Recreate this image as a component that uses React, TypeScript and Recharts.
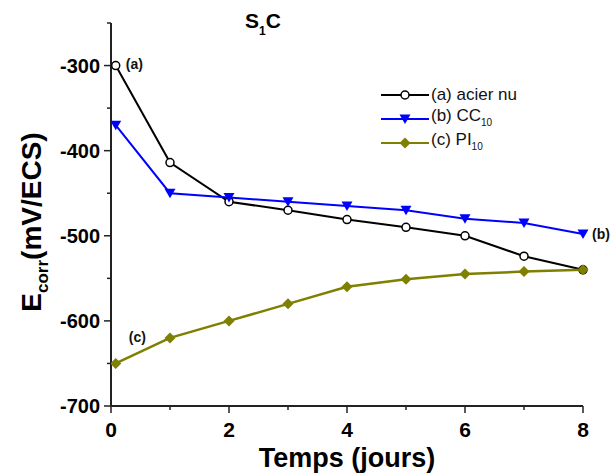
import React from "react";
import {
  LineChart,
  Line,
  XAxis,
  YAxis,
  Label,
} from "recharts";

const FONT = "Arial, 'Liberation Sans', Helvetica, sans-serif";

// jours
const days = [0.08, 1, 2, 3, 4, 5, 6, 7, 8];
// E corr (mV/ECS)
const acierNu = [-300, -414, -460, -470, -481, -490, -500, -524, -540];
const cc10 = [-370, -450, -455, -460, -465, -470, -480, -485, -498];
const pi10 = [-650, -620, -600, -580, -560, -551, -545, -542, -540];

const xTicks = [0, 1, 2, 3, 4, 5, 6, 7, 8];
const yTicks = [-700, -650, -600, -550, -500, -450, -400, -350, -300, -250];

const COLORS = {
  a: "#000000",
  b: "#0000ff",
  c: "#7f7f00",
};

const data = days.map((d, i) => ({
  day: d,
  a: acierNu[i],
  b: cc10[i],
  c: pi10[i],
}));

function CircleDot(props: any) {
  const { cx, cy, index } = props;
  return (
    <circle key={`a-${index}`} cx={cx} cy={cy} r={4} fill="#fff" stroke={COLORS.a} strokeWidth={1.5} />
  );
}

function TriangleDot(props: any) {
  const { cx, cy, index } = props;
  return (
    <path
      key={`b-${index}`}
      d={`M${cx - 5.5},${cy - 4.5} L${cx + 5.5},${cy - 4.5} L${cx},${cy + 5} Z`}
      fill={COLORS.b}
    />
  );
}

function DiamondDot(props: any) {
  const { cx, cy, index } = props;
  return (
    <path
      key={`c-${index}`}
      d={`M${cx},${cy - 5.5} L${cx + 5.5},${cy} L${cx},${cy + 5.5} L${cx - 5.5},${cy} Z`}
      fill={COLORS.c}
    />
  );
}

function YTick(props: any) {
  const { x, y, payload } = props;
  const major = payload.value % 100 === 0;
  return (
    <g>
      <line x1={x - (major ? 7 : 4)} y1={y} x2={x} y2={y} stroke="#222" strokeWidth={1.5} />
      {major && (
        <text x={x - 11} y={y} dy="0.36em" textAnchor="end" fontFamily={FONT} fontWeight="bold" fontSize={20} fill="#000">
          {payload.value}
        </text>
      )}
    </g>
  );
}

function XTick(props: any) {
  const { x, y, payload } = props;
  const major = payload.value % 2 === 0;
  return (
    <g>
      <line x1={x} y1={y} x2={x} y2={y + (major ? 7 : 4)} stroke="#222" strokeWidth={1.5} />
      {major && (
        <text x={x} y={y + 31} textAnchor="middle" fontFamily={FONT} fontWeight="bold" fontSize={21} fill="#000">
          {payload.value}
        </text>
      )}
    </g>
  );
}

function endLabel(text: string, which: "first" | "last", dx: number, dy: number) {
  return (props: any) => {
    const { x, y, index } = props;
    const want = which === "first" ? 0 : days.length - 1;
    if (index !== want) return null;
    return (
      <text x={x + dx} y={y + dy} dy="0.35em" textAnchor="start" fontFamily={FONT} fontWeight="bold" fontSize={14} fill="#111">
        {text}
      </text>
    );
  };
}

const legendItems = [
  { key: "a", label: "(a) acier nu", sub: "", marker: "circle" },
  { key: "b", label: "(b) CC", sub: "10", marker: "tri" },
  { key: "c", label: "(c) PI", sub: "10", marker: "diamond" },
] as const;

function LegendBox() {
  return (
    <div style={{ position: "absolute", left: 381, top: 83, fontFamily: FONT, fontSize: 17, color: "#111" }}>
      {legendItems.map((it) => {
        const col = COLORS[it.key];
        return (
          <div key={it.key} style={{ display: "flex", alignItems: "center", height: 24 }}>
            <svg width={50} height={14} style={{ display: "block" }}>
              <line x1={0} y1={7} x2={48} y2={7} stroke={col} strokeWidth={2} />
              {it.marker === "circle" && <circle cx={24} cy={7} r={4} fill="#fff" stroke={col} strokeWidth={1.5} />}
              {it.marker === "tri" && <path d="M18.5,2.5 L29.5,2.5 L24,12 Z" fill={col} />}
              {it.marker === "diamond" && <path d="M24,1.5 L29.5,7 L24,12.5 L18.5,7 Z" fill={col} />}
            </svg>
            <span style={{ lineHeight: "24px" }}>
              {it.label}
              {it.sub && <sub style={{ fontSize: 10, verticalAlign: "-5px" }}>{it.sub}</sub>}
            </span>
          </div>
        );
      })}
    </div>
  );
}

export default function App() {
  return (
    <div style={{ position: "absolute", left: 0, top: 0, width: 612, height: 476, background: "#fff" }}>
      <LineChart
        width={612}
        height={476}
        data={data}
        margin={{ top: 23, right: 29, left: 0, bottom: 0 }}
      >
        <XAxis
          dataKey="day"
          type="number"
          domain={[0, 8]}
          ticks={xTicks}
          tick={<XTick />}
          tickLine={false}
          tickSize={0}
          tickMargin={0}
          height={70}
          stroke="#222"
          strokeWidth={2}
          interval={0}
        >
          <Label
            value="Temps (jours)"
            position="insideBottom"
            offset={9}
            style={{ fontFamily: FONT, fontWeight: "bold", fontSize: 27, fill: "#000" }}
          />
        </XAxis>
        <YAxis
          type="number"
          domain={[-700, -250]}
          ticks={yTicks}
          tick={<YTick />}
          tickLine={false}
          tickSize={0}
          tickMargin={0}
          width={111}
          stroke="#222"
          strokeWidth={2}
          interval={0}
        />
        <Line
          dataKey="a"
          stroke={COLORS.a}
          strokeWidth={2}
          dot={<CircleDot />}
          isAnimationActive={false}
          label={endLabel("(a)", "first", 10, -1)}
        />
        <Line
          dataKey="b"
          stroke={COLORS.b}
          strokeWidth={2}
          dot={<TriangleDot />}
          isAnimationActive={false}
          label={endLabel("(b)", "last", 9, 0)}
        />
        <Line
          dataKey="c"
          stroke={COLORS.c}
          strokeWidth={2.5}
          dot={<DiamondDot />}
          isAnimationActive={false}
          label={endLabel("(c)", "first", 13, -26)}
        />
      </LineChart>
      <LegendBox />
      <svg width={612} height={476} style={{ position: "absolute", left: 0, top: 0, pointerEvents: "none" }}>
        <text x={245} y={28} fontFamily={FONT} fontWeight="bold" fontSize={21} fill="#000">
          S<tspan fontSize={12} dy={7}>1</tspan>
          <tspan dy={-7}>C</tspan>
        </text>
        <text
          transform="translate(41,222) rotate(-90)"
          textAnchor="middle"
          fontFamily={FONT}
          fontWeight="bold"
          fontSize={28}
          fill="#000"
        >
          E<tspan fontSize={17} dy={7}>corr</tspan>
          <tspan dy={-7}>(mV/ECS)</tspan>
        </text>
      </svg>
    </div>
  );
}
